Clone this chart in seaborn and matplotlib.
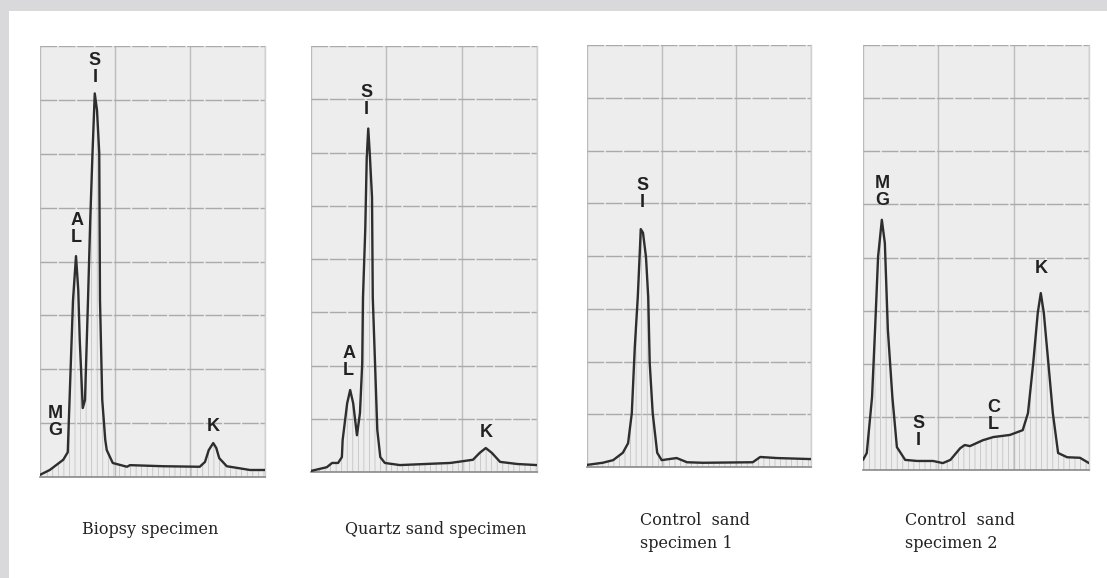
import numpy as np
import pandas as pd
import matplotlib
matplotlib.use("Agg")
import matplotlib.pyplot as plt
from matplotlib.patches import Rectangle
import seaborn as sns

# EDS spectra: energy in keV, counts in arbitrary units (100 per grid row)
biopsy_kev = [1.00, 1.13, 1.31, 1.37, 1.40, 1.44, 1.48, 1.51, 1.53, 1.57, 1.60, 1.64, 1.67,
              1.70, 1.73, 1.76, 1.79, 1.80, 1.83, 1.87, 1.89, 1.97, 2.16, 2.20, 2.64, 3.13,
              3.20, 3.25, 3.31, 3.35, 3.39, 3.49, 3.80, 4.00]
biopsy_cts = [4, 13, 32, 46, 167, 328, 410, 347, 254, 128, 143, 328, 477,
              601, 712, 681, 601, 328, 143, 69, 50, 26, 19, 22, 20, 19,
              28, 50, 63, 54, 35, 20, 13, 13]

quartz_kev = [1.00, 1.21, 1.28, 1.36, 1.41, 1.42, 1.48, 1.52, 1.56, 1.61, 1.65, 1.68, 1.69,
              1.72, 1.74, 1.76, 1.78, 1.81, 1.82, 1.85, 1.88, 1.92, 1.98, 2.18, 2.85, 3.15,
              3.24, 3.32, 3.40, 3.51, 3.74, 4.00]
quartz_cts = [2, 9, 17, 17, 28, 60, 129, 154, 129, 69, 111, 204, 328,
              454, 591, 645, 598, 516, 328, 204, 79, 28, 17, 13, 17, 23,
              36, 45, 36, 19, 15, 13]

control1_kev = [1.00, 1.21, 1.35, 1.48, 1.55, 1.60, 1.64, 1.68, 1.71, 1.72, 1.75, 1.79, 1.82,
                1.84, 1.88, 1.94, 2.00, 2.20, 2.34, 2.55, 3.22, 3.32, 3.54, 4.00]
control1_cts = [4, 8, 13, 27, 45, 102, 227, 322, 417, 451, 444, 398, 322,
                197, 102, 27, 13, 17, 9, 8, 9, 19, 17, 15]

control2_kev = [1.00, 1.05, 1.12, 1.16, 1.20, 1.25, 1.29, 1.33, 1.39, 1.45, 1.56, 1.72, 1.93,
                2.06, 2.16, 2.29, 2.35, 2.42, 2.59, 2.73, 2.95, 3.12, 3.19, 3.26, 3.32, 3.36,
                3.40, 3.46, 3.52, 3.59, 3.71, 3.88, 4.00]
control2_cts = [19, 32, 137, 264, 401, 471, 427, 264, 137, 43, 19, 17, 17,
                13, 19, 41, 47, 45, 56, 62, 66, 75, 107, 202, 296, 333,
                296, 202, 107, 32, 24, 23, 13]

captions = ["Biopsy specimen", "Quartz sand specimen",
            "Control  sand\nspecimen 1", "Control  sand\nspecimen 2"]

# element labels: (text, keV, counts at centre of label)
peak_labels = [
    [("S\nI", 1.73, 758), ("A\nL", 1.49, 460), ("M\nG", 1.20, 103), ("K", 3.31, 93)],
    [("S\nI", 1.74, 696), ("A\nL", 1.50, 206), ("K", 3.32, 75)],
    [("S\nI", 1.74, 518)],
    [("M\nG", 1.25, 524), ("S\nI", 1.74, 71), ("C\nL", 2.73, 102), ("K", 3.36, 379)],
]

spectra = [(biopsy_kev, biopsy_cts), (quartz_kev, quartz_cts),
           (control1_kev, control1_cts), (control2_kev, control2_cts)]

W, H = 1107, 578
# panel boxes in pixels: left, right, top, bottom
boxes = [(40, 265, 46, 477), (311, 537, 46, 472), (587, 811, 45, 467), (863, 1089, 45, 470)]
cap_pos = [(82, 530), (345, 530), (640, 532), (905, 532)]

sns.set_theme(style="white")
plt.rcParams["hatch.linewidth"] = 0.5

fig = plt.figure(figsize=(W / 100, H / 100), dpi=100)
fig.patch.set_facecolor("#d9d9db")
fig.patches.append(Rectangle((9 / W, 0), 1, 1 - 11 / H, transform=fig.transFigure,
                             facecolor="white", edgecolor="none", zorder=-10))

for i, ((kev, cts), (l, r, t, b)) in enumerate(zip(spectra, boxes)):
    ax = fig.add_axes([l / W, 1 - b / H, (r - l) / W, (b - t) / H])
    ax.set_facecolor("#ededed")
    df = pd.DataFrame({"keV": kev, "counts": cts})
    ax.fill_between(df["keV"], 0, df["counts"], facecolor="none", edgecolor="#bdbdbd",
                    hatch="|||", linewidth=0, zorder=1)
    sns.lineplot(data=df, x="keV", y="counts", ax=ax, color="#2e2e2e", linewidth=1.7,
                 sort=False, estimator=None, zorder=3)
    ax.set_xlim(1, 4)
    ax.set_ylim(0, 800)
    ax.set_xticks([1, 2, 3, 4])
    ax.set_yticks(np.arange(0, 801, 100))
    ax.grid(True, axis="x", color="#bcbcbc", linewidth=1.0)
    ax.grid(True, axis="y", color="#aaaaaa", linewidth=1.0, linestyle=(0, (12, 1.2)))
    ax.tick_params(length=0, labelbottom=False, labelleft=False)
    ax.set_xlabel("")
    ax.set_ylabel("")
    for s in ["left", "top"]:
        ax.spines[s].set_visible(False)
    ax.spines["right"].set_color("#d0d0d0")
    ax.spines["right"].set_linewidth(1.0)
    ax.spines["bottom"].set_color("#8a8a8a")
    ax.spines["bottom"].set_linewidth(1.2)
    for txt, x, y in peak_labels[i]:
        ax.text(x, y, txt, ha="center", va="center", fontsize=13, fontweight="bold",
                family=["Liberation Sans", "DejaVu Sans"], color="#222222",
                linespacing=1.0, zorder=4)
    cx, cy = cap_pos[i]
    fig.text(cx / W, 1 - cy / H, captions[i], ha="left", va="center", fontsize=11.5,
             family=["DejaVu Serif", "Liberation Serif"], color="#222222", linespacing=1.5)

fig.savefig("out.png", dpi=100)
